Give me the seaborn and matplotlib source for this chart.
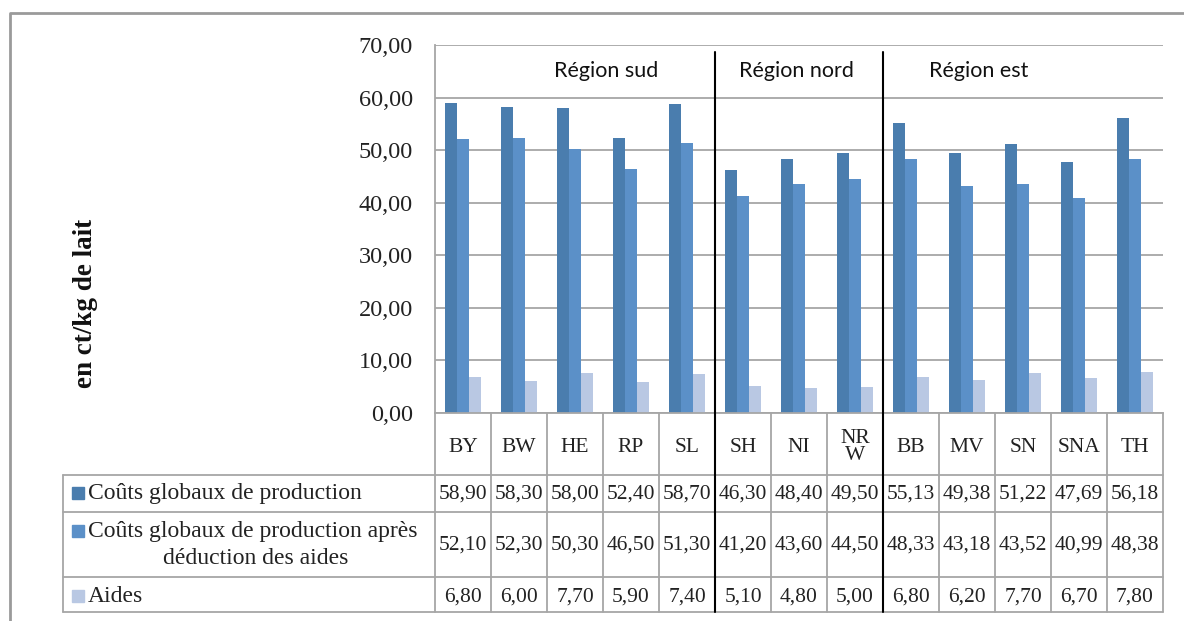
import matplotlib
matplotlib.use("Agg")
import matplotlib.pyplot as plt
import matplotlib.transforms as mtransforms
from matplotlib.lines import Line2D
from matplotlib.patches import Rectangle
from matplotlib.ticker import FuncFormatter
import pandas as pd
import seaborn as sns

# data (ct/kg de lait)
regions = ["BY", "BW", "HE", "RP", "SL", "SH", "NI", "NR\nW", "BB", "MV", "SN", "SNA", "TH"]
couts = [58.90, 58.30, 58.00, 52.40, 58.70, 46.30, 48.40, 49.50, 55.13, 49.38, 51.22, 47.69, 56.18]
couts_nets = [52.10, 52.30, 50.30, 46.50, 51.30, 41.20, 43.60, 44.50, 48.33, 43.18, 43.52, 40.99, 48.38]
aides = [6.80, 6.00, 7.70, 5.90, 7.40, 5.10, 4.80, 5.00, 6.80, 6.20, 7.70, 6.70, 7.80]
series_names = [
    "Coûts globaux de production",
    "Coûts globaux de production après\ndéduction des aides",
    "Aides",
]
groups = ["Région sud", "Région nord", "Région est"]
group_sizes = [5, 3, 5]

series_colors = ["#4a7dae", "#5b90c8", "#b9c8e3"]
group_label_x = [2.55, 5.95, 9.2]

W, H = 1184, 621
GRID = "#a6a6a6"
SERIF = ["Liberation Serif", "DejaVu Serif"]


def fy(py):
    return 1 - py / H


def fmt(v):
    return f"{v:.2f}".replace(".", ",")


sns.set_theme(style="white")
plt.rcParams["font.family"] = SERIF

frame = pd.DataFrame(
    {
        "region": regions * 3,
        "serie": [s for s in series_names for _ in regions],
        "value": couts + couts_nets + aides,
    }
)

fig = plt.figure(figsize=(W / 100, H / 100), dpi=100)
ax = fig.add_axes([435 / W, fy(413), (1163 - 435) / W, (413 - 45) / H])

sns.barplot(
    data=frame,
    x="region",
    y="value",
    hue="serie",
    order=regions,
    hue_order=series_names,
    palette=series_colors,
    saturation=1,
    width=0.64,
    gap=0,
    linewidth=0,
    legend=False,
    ax=ax,
)

ax.set_xlim(-0.5, len(regions) - 0.5)
ax.set_ylim(0, 70)
ax.set_yticks(range(0, 80, 10))
ax.yaxis.set_major_formatter(FuncFormatter(lambda v, _: fmt(v)))
ax.tick_params(axis="y", length=0, pad=16, labelsize=17.5, colors="#222222")
ax.set_xticks([])
ax.set_xlabel("")
ax.set_ylabel("")
ax.yaxis.grid(True, color=GRID, linewidth=1.3)
ax.set_axisbelow(True)
for side in ["top", "right"]:
    ax.spines[side].set_visible(False)
for side in ["left", "bottom"]:
    ax.spines[side].set_color(GRID)
    ax.spines[side].set_linewidth(1.3)

for label, x in zip(groups, group_label_x):
    ax.text(x, 65, label, ha="center", va="center", fontsize=15.5,
            family=["Lato", "DejaVu Sans"], color="#111111")

# data table under the chart
tr = mtransforms.blended_transform_factory(ax.transData, fig.transFigure)
n = len(regions)
row_edges = [475, 512, 577, 612]
row_centres = [494, 545, 597]

for py in row_edges:
    fig.add_artist(Line2D([63 / W, 1163 / W], [fy(py), fy(py)], color=GRID, lw=1.3))
fig.add_artist(Line2D([63 / W, 63 / W], [fy(475), fy(612)], color=GRID, lw=1.3))
for i in range(n + 1):
    fig.add_artist(Line2D([i - 0.5, i - 0.5], [fy(413), fy(612)], color=GRID, lw=1.3, transform=tr))

for i, reg in enumerate(regions):
    fig.text(i, fy(447), reg, transform=tr, ha="center", va="center",
             fontsize=15.5, linespacing=0.85, color="#222222")
    for vals, py in zip([couts, couts_nets, aides], row_centres):
        fig.text(i, fy(py), fmt(vals[i]), transform=tr, ha="center", va="center",
                 fontsize=15.5, color="#222222")

for name, colour, py in zip(series_names, series_colors, [493, 531, 596]):
    fig.add_artist(Rectangle((72 / W, fy(py + 6)), 12 / W, 12 / H, color=colour,
                             transform=fig.transFigure))
    lines = name.split("\n")
    fig.text(88 / W, fy(py), lines[0], ha="left", va="center", fontsize=17, color="#222222")
    if len(lines) > 1:
        fig.text(256 / W, fy(py + 28), lines[1], ha="center", va="center",
                 fontsize=17, color="#222222")

# black separators between the regions
edge = -0.5
for size in group_sizes[:-1]:
    edge += size
    fig.add_artist(Line2D([edge, edge], [fy(52), fy(612)], color="black", lw=1.5, transform=tr))

fig.text(85 / W, fy(303), "en ct/kg de lait", rotation=90, ha="center", va="center",
         fontsize=19.5, fontweight="bold", color="#111111")

# outer chart frame (cut off at the right and bottom)
fig.add_artist(Line2D([10 / W, 10 / W, 1], [0, fy(13), fy(13)], color="#9a9a9a", lw=2))

fig.savefig("out.png", dpi=100)
